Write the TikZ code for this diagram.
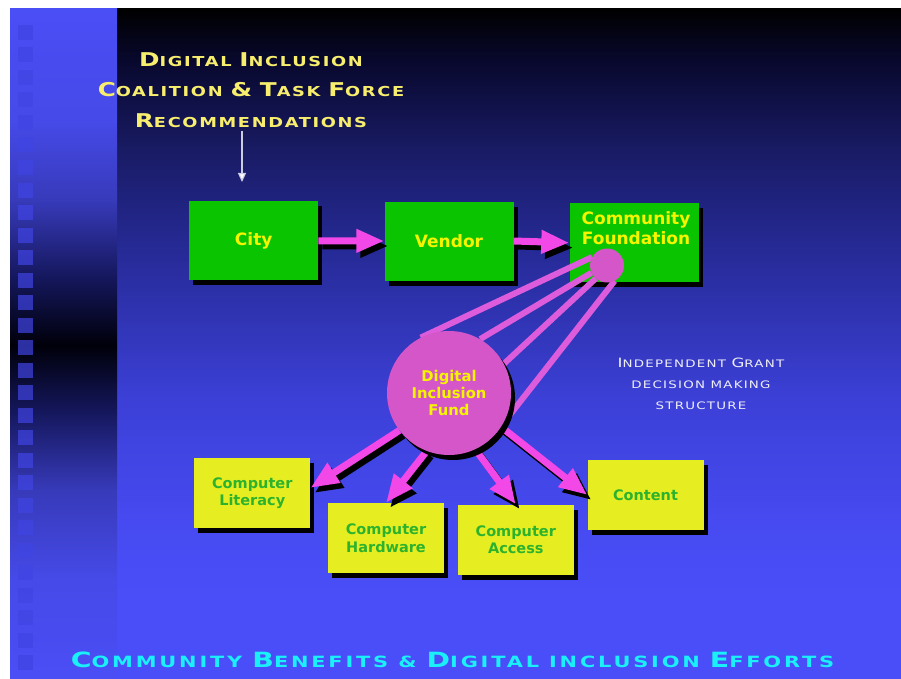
\documentclass[tikz,border=0pt]{standalone}
\usepackage{fontspec}
\usetikzlibrary{arrows.meta,shadows}
\newfontfamily\boxfont{DejaVu Sans}
\newfontfamily\copperfont[FakeStretch=1.3,LetterSpace=12]{DejaVu Sans}
\newfontfamily\footfont[FakeStretch=1.35,LetterSpace=18]{DejaVu Sans}

\definecolor{bgblue}{RGB}{74,78,248}
\definecolor{bgc1}{RGB}{70,74,240}
\definecolor{bgc2}{RGB}{60,64,215}
\definecolor{bgc3}{RGB}{38,42,150}
\definecolor{bgc4}{RGB}{25,27,100}
\definecolor{bgc5}{RGB}{8,8,45}
\definecolor{stripblue}{RGB}{74,78,245}
\definecolor{strip1}{RGB}{70,74,232}
\definecolor{strip2}{RGB}{55,58,185}
\definecolor{strip3}{RGB}{20,22,90}
\definecolor{strip4}{RGB}{0,0,10}
\definecolor{squareblue}{RGB}{64,68,227}
\definecolor{boxgreen}{RGB}{10,196,0}
\definecolor{boxyellow}{RGB}{230,238,34}
\definecolor{textyellow}{RGB}{245,245,0}
\definecolor{textgreen}{RGB}{45,178,45}
\definecolor{titleyellow}{RGB}{248,238,110}
\definecolor{footcyan}{RGB}{25,240,248}
\definecolor{arrowpink}{RGB}{242,72,232}
\definecolor{conepink}{RGB}{220,92,220}
\definecolor{dotpink}{RGB}{212,86,200}

% background of the slide, stops between 25bp (bottom) and 75bp (top)
\pgfdeclareverticalshading{slidebg}{100bp}{color(0bp)=(bgblue); color(31bp)=(bgblue);
  color(36.9bp)=(bgc1); color(45.8bp)=(bgc2); color(57bp)=(bgc3); color(64.5bp)=(bgc4);
  color(71.2bp)=(bgc5); color(75bp)=(black); color(100bp)=(black)}
\pgfdeclareverticalshading{stripbg}{100bp}{color(0bp)=(stripblue); color(25bp)=(stripblue);
  color(32.4bp)=(strip1); color(39.1bp)=(strip2); color(45.1bp)=(strip3); color(49.9bp)=(strip4);
  color(54.8bp)=(strip3); color(60.7bp)=(strip2); color(66.7bp)=(strip1); color(75bp)=(stripblue);
  color(100bp)=(stripblue)}

% fake small caps: big first letter, rest upper case at the running size
\newcommand{\fsc}[2]{{\fontsize{\fscbig}{\fscbig}\selectfont#1}\MakeUppercase{#2}}

\pgfdeclarelayer{top}
\pgfsetlayers{main,top}

\begin{document}
\begin{tikzpicture}[x=1pt,y=-1pt,
    boxshadow/.style={drop shadow={shadow xshift=4pt,shadow yshift=-5pt,opacity=1,fill=black}},
    greenbox/.style={fill=boxgreen,boxshadow,minimum width=129pt,minimum height=79pt,inner sep=0pt},
    greentext/.style={text=textyellow,align=center,font=\boxfont\bfseries\fontsize{17}{20}\selectfont},
    yellowbox/.style={fill=boxyellow,boxshadow,minimum width=116pt,minimum height=70pt,inner sep=0pt,
      text=textgreen,align=center,font=\boxfont\bfseries\fontsize{14.5}{17.5}\selectfont},
    pinkarrow/.style={draw=arrowpink,line width=7pt,-{Triangle[length=28pt,width=22pt]}},
    arrowshadow/.style={pinkarrow,draw=black,fill=black,transform canvas={shift={(4,5)}}},
    coneline/.style={draw=conepink,line width=6pt},
    recarrow/.style={draw={rgb,255:red,205;green,205;blue,225},line width=1.2pt,
      -{Triangle[length=9pt,width=8pt,fill=white]}}]
  \useasboundingbox (0,0) rectangle (901,679);
  \fill[white] (0,0) rectangle (901,679);
  % slide background
  \shade[shading=slidebg] (117,9) rectangle (901,679);
  \shade[shading=stripbg] (10,9) rectangle (117,679);
  \foreach \k in {0,...,28}
    \fill[squareblue,opacity=0.7] (18,25+22.5*\k) rectangle (33,40+22.5*\k);

  % heading
  \node[text=titleyellow,align=center,
    font={\copperfont\bfseries\fontsize{13.7}{30.3}\selectfont\def\fscbig{19}}] (title) at (251,90)
    {\fsc{D}{igital} \fsc{I}{nclusion}\\
     \fsc{C}{oalition} \fsc{\&}{} \fsc{T}{ask} \fsc{F}{orce}\\
     \fsc{R}{ecommendations}};
  \coordinate (recend) at (242,182);
  \draw[recarrow] (title.south -| recend) -- (recend);

  % top row
  \node[greenbox,greentext] (city) at (253.75,240.75) {City};
  \node[greenbox,greentext] (vendor) at (449,241) {Vendor};
  \node[greenbox] (cf) at (634,242.75) {};
  \node[greentext] (cflabel) at (636,228.5) {Community\\Foundation};

  % circles
  \begin{pgfonlayer}{top}
    \node[circle,fill=dotpink,minimum size=34pt,inner sep=0pt] (cfdot) at (607,265.5) {};
    \node[circle,fill=dotpink,minimum size=124pt,inner sep=0pt,boxshadow,
      text=textyellow,align=center,font=\boxfont\bfseries\fontsize{14.8}{17}\selectfont]
      (fund) at (449,393) {Digital\\Inclusion\\Fund};
  \end{pgfonlayer}

  % grant areas
  \node[yellowbox] (lit) at (252.25,493) {Computer\\Literacy};
  \node[yellowbox] (hw) at (386,538) {Computer\\Hardware};
  \node[yellowbox] (acc) at (515.8,539.5) {Computer\\Access};
  \node[yellowbox] (content) at (645.5,495) {Content};

  % beam from the foundation to the fund
  \foreach \s/\e in {151/117,205/60,229/28,296/-29}
    \draw[coneline] (cfdot.\s) -- (fund.\e);

  % arrows
  \foreach \a/\b in {city.east/vendor.west,vendor.east/cf.west,fund.217/lit.5,
      fund.249/hw.north,fund.295/acc.north,fund.327/content.west} {
    \draw[arrowshadow] (\a) -- (\b);
    \draw[pinkarrow] (\a) -- (\b);
  }

  \node[text={rgb,255:red,238;green,238;blue,248},align=center,
    font={\copperfont\fontsize{10.3}{21.3}\selectfont\def\fscbig{12.8}}] (grant) at (701,384)
    {\fsc{I}{ndependent} \fsc{G}{rant}\\ \MakeUppercase{decision making}\\ \MakeUppercase{structure}};

  \node[text=footcyan,font={\footfont\bfseries\fontsize{15.5}{15.5}\selectfont\def\fscbig{21}}]
    (footer) at (452.5,660)
    {\fsc{C}{ommunity} \fsc{B}{enefits} \& \fsc{D}{igital} \MakeUppercase{inclusion} \fsc{E}{fforts}};
\end{tikzpicture}
\end{document}
